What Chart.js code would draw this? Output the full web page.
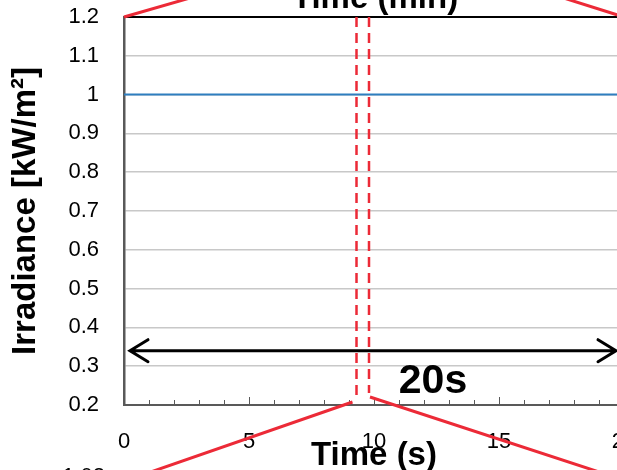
<!DOCTYPE html>
<html lang="en">
<head>
    <meta charset="UTF-8">
    <title>Irradiance</title>
    <script src="https://cdn.jsdelivr.net/npm/chart.js@4"></script>
    <style>
        html, body { margin: 0; padding: 0; background: #fff; overflow: hidden; }
        .wrap { width: 640px; height: 470px; }
    </style>
</head>
<body>
    <div class="wrap">
        <canvas id="irrChart" width="640" height="470"></canvas>
    </div>

    <script>
        // data
        const timeSec = [0, 20];
        const irradiance = [1, 1];
        const xMajorTicks = [0, 5, 10, 15, 20];
        const yTicks = [0.2, 0.3, 0.4, 0.5, 0.6, 0.7, 0.8, 0.9, 1, 1.1, 1.2];

        // zoom window marked with the red dashed lines (s)
        const zoomWindow = [9.3, 9.8];
        const arrowSpan = [0, 20];
        const arrowLevel = 0.34;
        const arrowLabel = '20s';

        const RED = '#ec2a37';
        const AXIS = '#595959';
        const FONT = '"Liberation Sans", Arial, sans-serif';

        // keep the plot area where the reference has it
        function noAutoPadding(scale) {
            scale.paddingTop = 0;
            scale.paddingBottom = 0;
            scale.paddingLeft = 0;
            scale.paddingRight = 0;
        }

        // extra drawing: frame, inward ticks, zoom marks, arrow and cut-off labels
        const decorations = {
            id: 'decorations',
            afterDatasetsDraw(chart) {
                const ctx = chart.ctx;
                const area = chart.chartArea;
                const xs = chart.scales.x;
                const ys = chart.scales.y;
                ctx.save();

                // top frame line
                ctx.strokeStyle = '#000';
                ctx.lineWidth = 2;
                ctx.beginPath();
                ctx.moveTo(area.left, area.top);
                ctx.lineTo(area.right, area.top);
                ctx.stroke();

                // inward tick marks on the time axis
                ctx.strokeStyle = AXIS;
                ctx.lineWidth = 1;
                for (let t = xs.min; t <= xs.max; t++) {
                    const px = Math.round(xs.getPixelForValue(t)) + 0.5;
                    const len = xMajorTicks.includes(t) ? 8 : 5;
                    ctx.beginPath();
                    ctx.moveTo(px, area.bottom);
                    ctx.lineTo(px, area.bottom - len);
                    ctx.stroke();
                }

                // red dashed zoom window
                const z0 = xs.getPixelForValue(zoomWindow[0]);
                const z1 = xs.getPixelForValue(zoomWindow[1]);
                ctx.strokeStyle = RED;
                ctx.lineWidth = 2.5;
                ctx.setLineDash([10, 6]);
                ctx.beginPath();
                ctx.moveTo(z0, area.top);
                ctx.lineTo(z0, area.bottom - 8);
                ctx.moveTo(z1, area.top);
                ctx.lineTo(z1, area.bottom - 12);
                ctx.stroke();
                ctx.setLineDash([]);

                // connector lines to the neighbouring charts
                ctx.lineWidth = 3;
                ctx.beginPath();
                ctx.moveTo(area.left, area.top);
                ctx.lineTo(area.left + 59 * 2, area.top - 17 * 2);
                ctx.moveTo(area.right, area.top);
                ctx.lineTo(area.right - 54 * 2, area.top - 17 * 2);
                ctx.moveTo(z0 - 4, area.bottom - 3);
                ctx.lineTo(z0 - 4 - 196 * 1.5, area.bottom - 3 + 68 * 1.5);
                ctx.moveTo(z1 + 1, area.bottom - 8);
                ctx.lineTo(z1 + 1 + 223 * 1.5, area.bottom - 8 + 73 * 1.5);
                ctx.stroke();

                // double headed arrow
                const ay = ys.getPixelForValue(arrowLevel);
                const ax0 = xs.getPixelForValue(arrowSpan[0]) + 6;
                const ax1 = xs.getPixelForValue(arrowSpan[1]) - 8;
                ctx.strokeStyle = '#000';
                ctx.lineWidth = 3;
                ctx.lineCap = 'round';
                ctx.beginPath();
                ctx.moveTo(ax0, ay);
                ctx.lineTo(ax1, ay);
                ctx.moveTo(ax0 + 18, ay - 11);
                ctx.lineTo(ax0, ay);
                ctx.lineTo(ax0 + 18, ay + 11);
                ctx.moveTo(ax1 - 18, ay - 11);
                ctx.lineTo(ax1, ay);
                ctx.lineTo(ax1 - 18, ay + 11);
                ctx.stroke();

                // arrow label
                ctx.fillStyle = '#000';
                ctx.font = 'bold 41px ' + FONT;
                ctx.textAlign = 'center';
                ctx.textBaseline = 'alphabetic';
                ctx.fillText(arrowLabel, 433, 393);

                // cut-off title of the chart above and tick of the chart below
                ctx.font = 'bold 33px ' + FONT;
                ctx.fillText('Time (min)', 375, 8);
                ctx.font = '22px ' + FONT;
                ctx.textAlign = 'right';
                ctx.fillText('1.02', 105, 483);

                ctx.restore();
            }
        };

        const ctx = document.getElementById('irrChart').getContext('2d');
        new Chart(ctx, {
            type: 'line',
            data: {
                labels: timeSec,
                datasets: [{
                    label: 'Irradiance',
                    data: timeSec.map((t, i) => ({ x: t, y: irradiance[i] })),
                    borderColor: '#2e7ebf',
                    borderWidth: 2,
                    pointRadius: 0,
                    fill: false,
                    tension: 0
                }]
            },
            options: {
                responsive: false,
                animation: false,
                devicePixelRatio: 1,
                layout: { padding: { top: 17, right: 16, left: 0, bottom: 0 } },
                plugins: {
                    legend: { display: false },
                    tooltip: { enabled: false }
                },
                scales: {
                    x: {
                        type: 'linear',
                        min: 0,
                        max: 20,
                        afterBuildTicks: (scale) => {
                            scale.ticks = xMajorTicks.map(v => ({ value: v }));
                        },
                        afterFit: (scale) => { scale.height = 65; noAutoPadding(scale); },
                        ticks: {
                            autoSkip: false,
                            maxRotation: 0,
                            padding: 24,
                            color: '#000',
                            font: { family: FONT, size: 22 }
                        },
                        grid: { drawOnChartArea: false, drawTicks: false },
                        border: { display: true, color: AXIS, width: 2 },
                        title: {
                            display: true,
                            text: 'Time (s)',
                            color: '#000',
                            padding: 0,
                            font: { family: FONT, size: 33, weight: 'bold', lineHeight: 0.85 }
                        }
                    },
                    y: {
                        min: 0.2,
                        max: 1.2,
                        afterBuildTicks: (scale) => {
                            scale.ticks = yTicks.map(v => ({ value: v }));
                        },
                        afterFit: (scale) => { scale.width = 124; noAutoPadding(scale); },
                        ticks: {
                            padding: 25,
                            color: '#000',
                            font: { family: FONT, size: 22 },
                            callback: (v) => String(Number(v.toFixed(1)))
                        },
                        grid: { color: '#c8c8c8', lineWidth: 1.5, drawTicks: false },
                        border: { display: true, color: AXIS, width: 2.5 },
                        title: {
                            display: true,
                            text: 'Irradiance [kW/m²]',
                            color: '#000',
                            padding: { top: 6, bottom: 0 },
                            font: { family: FONT, size: 33, weight: 'bold' }
                        }
                    }
                }
            },
            plugins: [decorations]
        });
    </script>
</body>
</html>
